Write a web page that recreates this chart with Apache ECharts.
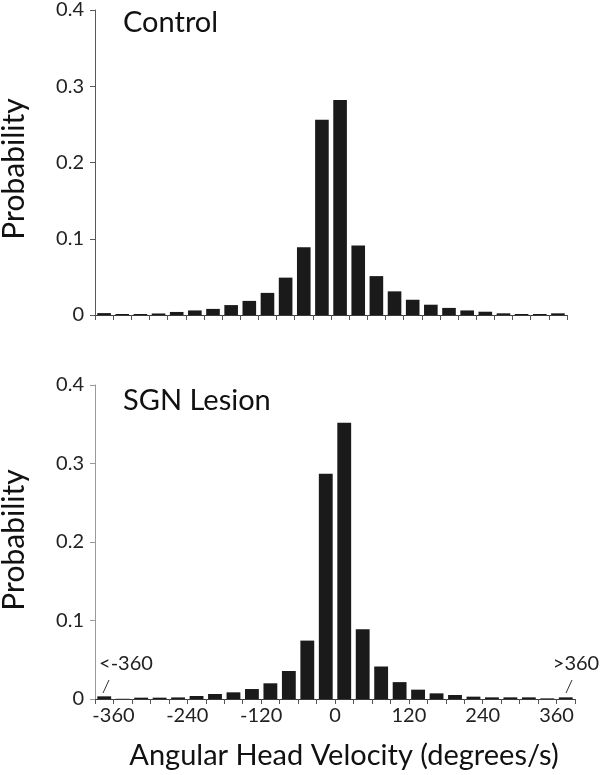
<!DOCTYPE html>
<html>
<head>
<meta charset="utf-8">
<script src="https://cdn.jsdelivr.net/npm/echarts@6/dist/echarts.min.js"></script>
<style>
html,body{margin:0;padding:0;background:#fff;}
#chart{width:603px;height:775px;}
</style>
</head>
<body>
<div id="chart"></div>
<script>
// Bins of angular head velocity (lower edge, deg/s); first and last are open-ended
const bins = ['<-360','-360','-330','-300','-270','-240','-210','-180','-150','-120','-90','-60','-30',
              '0','30','60','90','120','150','180','210','240','270','300','330','>360'];
// Probabilities per bin
const controlValues = [0.0025, 0.0013, 0.0013, 0.002, 0.004, 0.006, 0.008, 0.013, 0.0185, 0.029, 0.049, 0.089, 0.256,
                       0.282, 0.091, 0.051, 0.031, 0.020, 0.0135, 0.0093, 0.006, 0.0043, 0.0022, 0.0013, 0.0013, 0.0022];
const lesionValues  = [0.0034, 0.0003, 0.0017, 0.0017, 0.002, 0.0038, 0.0064, 0.0085, 0.0127, 0.020, 0.0357, 0.0744, 0.287,
                       0.352, 0.089, 0.0414, 0.0215, 0.0119, 0.0072, 0.0051, 0.003, 0.0021, 0.0021, 0.0021, 0.0008, 0.0021];
// Tick labels on the velocity axis (placed at bin edges)
const xTickLabels = ['-360','-240','-120','0','120','240','360'];
const yTicks = [0, 0.1, 0.2, 0.3, 0.4];
const panelTitles = ['Control', 'SGN Lesion'];
const yTitle = 'Probability';
const xTitle = 'Angular Head Velocity (degrees/s)';

const FONT = 'Lato';
const chart = echarts.init(document.getElementById('chart'), null, {renderer: 'canvas'});

function catAxis(gi) {
  return {
    type: 'category', gridIndex: gi, data: bins, boundaryGap: true,
    axisLine: {show: true, onZero: false, lineStyle: {color: '#3a3a3a', width: 1}},
    axisTick: {show: true, interval: 0, length: 5, lineStyle: {color: '#555'}},
    axisLabel: {show: false}, splitLine: {show: false}
  };
}
function valYAxis(gi, lineColor) {
  return {
    type: 'value', gridIndex: gi, min: yTicks[0], max: yTicks[yTicks.length - 1], interval: 0.1,
    axisLine: {show: true, onZero: false, lineStyle: {color: lineColor, width: 1}},
    axisTick: {show: true, length: 5, lineStyle: {color: lineColor}},
    axisLabel: {fontFamily: FONT, fontSize: 20, color: '#222', margin: 11,
                formatter: v => String(Math.round(v * 10) / 10)},
    splitLine: {show: false}
  };
}

const option = {
  animation: false,
  backgroundColor: '#ffffff',
  grid: [
    {left: 95, top: 9, width: 472, height: 306},
    {left: 95, top: 385, width: 480, height: 314}
  ],
  xAxis: [
    catAxis(0),
    catAxis(1),
    {
      type: 'value', gridIndex: 1, min: -390, max: 390, interval: 30, position: 'bottom',
      axisLine: {show: false, onZero: false}, axisTick: {show: false}, splitLine: {show: false},
      axisLabel: {fontFamily: FONT, fontSize: 20, color: '#222', margin: 7,
                  formatter: v => xTickLabels.indexOf(String(v)) >= 0 ? String(v) : ''}
    }
  ],
  yAxis: [valYAxis(0, '#595959'), valYAxis(1, '#9a9a9a')],
  series: [
    {name: panelTitles[0], type: 'bar', xAxisIndex: 0, yAxisIndex: 0, data: controlValues,
     barCategoryGap: '25%', itemStyle: {color: '#1a1a1a'}},
    {name: panelTitles[1], type: 'bar', xAxisIndex: 1, yAxisIndex: 1, data: lesionValues,
     barCategoryGap: '25%', itemStyle: {color: '#1a1a1a'}}
  ],
  graphic: [
    {type: 'text', left: 123, top: 8, style: {text: panelTitles[0], font: '29px ' + FONT, fill: '#111'}},
    {type: 'text', left: 123, top: 386, style: {text: panelTitles[1], font: '29px ' + FONT, fill: '#111'}},
    {type: 'text', x: 14, y: 169, rotation: Math.PI / 2,
     style: {text: yTitle, font: '30px ' + FONT, fill: '#111', align: 'center', verticalAlign: 'middle'}},
    {type: 'text', x: 14, y: 540, rotation: Math.PI / 2,
     style: {text: yTitle, font: '30px ' + FONT, fill: '#111', align: 'center', verticalAlign: 'middle'}},
    {type: 'text', x: 344, y: 756,
     style: {text: xTitle, font: '29px ' + FONT, fill: '#111', align: 'center', verticalAlign: 'middle'}},
    {type: 'text', x: 126, y: 664,
     style: {text: '<-360', font: '20px ' + FONT, fill: '#222', align: 'center', verticalAlign: 'middle'}},
    {type: 'line', shape: {x1: 103, y1: 693, x2: 109, y2: 680}, style: {stroke: '#333', lineWidth: 1}},
    {type: 'text', x: 576, y: 664,
     style: {text: '>360', font: '20px ' + FONT, fill: '#222', align: 'center', verticalAlign: 'middle'}},
    {type: 'line', shape: {x1: 566, y1: 693, x2: 572, y2: 680}, style: {stroke: '#333', lineWidth: 1}}
  ]
};
chart.setOption(option);
</script>
</body>
</html>
